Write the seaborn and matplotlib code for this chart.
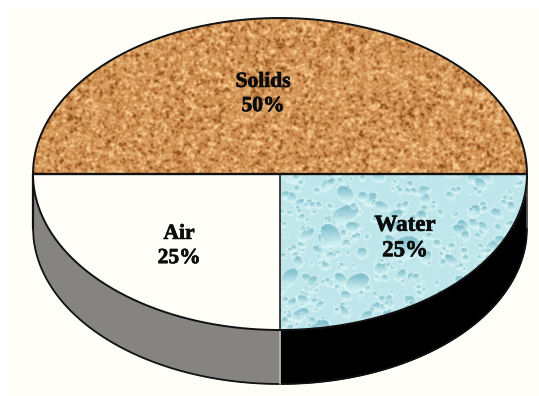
import numpy as np
import matplotlib
matplotlib.use("Agg")
import matplotlib.pyplot as plt
import matplotlib.patheffects as pe
from matplotlib.patches import Rectangle
import seaborn as sns

# Soil composition
components = ["Solids", "Air", "Water"]
shares = [50, 25, 25]
top_colors = ["#d09a60", "#fffef8", "#bfe6ea"]
wall_colors = ["#fffef8", "#858480", "#000000"]

sns.set_theme(style="white")
plt.rcParams["font.family"] = ["Liberation Serif", "DejaVu Serif"]

W, H = 539, 396
CX, CY, RX, RY, DEPTH = 280, 174, 247, 156, 54


def to_x(px):
    return (px - CX) / RX


def to_y(py):
    return (CY - py) / RY


def smooth(a, sigma):
    """Gaussian blur through the frequency domain."""
    fy = np.fft.fftfreq(a.shape[0])[:, None]
    fx = np.fft.fftfreq(a.shape[1])[None, :]
    g = np.exp(-2 * (np.pi * sigma) ** 2 * (fx ** 2 + fy ** 2))
    return np.fft.ifft2(np.fft.fft2(a) * g).real


def norm(a):
    return (a - a.mean()) / a.std()


def sand_texture(h, w, rng):
    """Speckled grain shading from dark brown to pale tan."""
    grain = norm(smooth(rng.standard_normal((h, w)), 0.8))
    clump = norm(smooth(rng.standard_normal((h, w)), 1.5))
    v = 0.7 * grain + 0.45 * clump
    stops = np.array([[0x8a, 0x4c, 0x1c], [0xc6, 0x84, 0x46], [0xdc, 0xa2, 0x64], [0xf8, 0xcc, 0x90]]) / 255
    t = np.clip((v + 2.0) / 3.8, 0, 1) * 3
    img = np.stack([np.interp(t, [0, 1, 2, 3], stops[:, c]) for c in range(3)], axis=-1)
    return np.stack([smooth(img[..., c], 0.45) for c in range(3)], axis=-1)


def droplet_texture(h, w, rng):
    """Pale blue surface scattered with soft shaded droplets."""
    base = np.array([0xbf, 0xe7, 0xeb]) / 255
    img = np.ones((h, w, 3)) * base
    yy, xx = np.mgrid[0:h, 0:w]
    radii = np.concatenate([rng.uniform(1.5, 3.5, 1500), rng.uniform(3.5, 6.5, 520), rng.uniform(7, 13, 55)])
    rng.shuffle(radii)
    body = np.array([0x6f, 0xb6, 0xc4]) / 255
    light = np.array([0xd2, 0xf2, 0xf4]) / 255
    rim = np.array([0xec, 0xfb, 0xfb]) / 255
    for r in radii:
        x0, y0 = rng.uniform(0, w), rng.uniform(0, h)
        tilt = rng.uniform(-0.7, 0.7)
        sx = r * rng.uniform(0.75, 1.2)
        x1, x2 = int(max(x0 - 2 * sx, 0)), int(min(x0 + 2 * sx + 1, w))
        y1, y2 = int(max(y0 - 2 * r, 0)), int(min(y0 + 2 * r + 1, h))
        if x1 >= x2 or y1 >= y2:
            continue
        dx = (xx[y1:y2, x1:x2] - x0 - tilt * (yy[y1:y2, x1:x2] - y0)) / sx
        dy = (yy[y1:y2, x1:x2] - y0) / r
        d = np.hypot(dx, dy)
        shade = np.clip(0.5 + 0.7 * dy, 0, 1)[..., None]
        col = body * (1 - shade) + light * shade
        patch = img[y1:y2, x1:x2]
        ring = (d >= 1) & (d < 1 + 1.0 / r)
        patch[ring] = patch[ring] * 0.3 + rim * 0.7
        inside = d < 1
        patch[inside] = patch[inside] * 0.25 + col[inside] * 0.75
    return np.stack([smooth(img[..., c], 0.6) for c in range(3)], axis=-1)


fig = plt.figure(figsize=(W / 100, H / 100), dpi=100, facecolor="white")
ax = fig.add_axes([0, 0, 1, 1])

# Paper panel behind the disc
ax.add_patch(Rectangle((to_x(10), to_y(H)), (W - 10) / RX, (H - 7) / RY,
                       facecolor="#fffef8", edgecolor="none", zorder=0))

# Lower disc gives the base of the cylinder wall
base_wedges, _ = ax.pie(shares, colors=wall_colors, startangle=0, counterclock=True,
                        center=(0, -DEPTH / RY), radius=1,
                        wedgeprops={"linewidth": 0}, frame=True)
for wedge in base_wedges:
    wedge.set_zorder(1)
base_wedges[0].set_visible(False)

# Wall band running down from the rim of the lower half
xs = np.linspace(-1, 1, 801)
rim = -np.sqrt(1 - xs ** 2)
left = xs <= 0
ax.fill_between(xs[left], rim[left], rim[left] - DEPTH / RY, color=wall_colors[1], lw=0, zorder=1.5)
ax.fill_between(xs[~left], rim[~left], rim[~left] - DEPTH / RY, color=wall_colors[2], lw=0, zorder=1.5)
ax.plot(xs, rim - DEPTH / RY, color="#111111", lw=1.3, zorder=2)
ax.plot([-1, -1], [0, -DEPTH / RY], color="#111111", lw=1.6, zorder=2)
ax.plot([1, 1], [0, -DEPTH / RY], color="#555555", lw=1.2, zorder=2)
ax.plot([0, 0], [-1, -1 - DEPTH / RY], color="#bbbbb5", lw=1.2, zorder=2)

# Upper disc with one face per component
top_wedges, _ = ax.pie(shares, colors=top_colors, startangle=0, counterclock=True,
                       center=(0, 0), radius=1,
                       wedgeprops={"linewidth": 0}, frame=True)
for wedge in top_wedges:
    wedge.set_zorder(3)

rng = np.random.default_rng(11)
sand = sand_texture(H, W, rng)
water = droplet_texture(H, W, rng)
extent = (to_x(0), to_x(W), to_y(H), to_y(0))
for tex, wedge in ((sand, top_wedges[0]), (water, top_wedges[2])):
    im = ax.imshow(tex, extent=extent, zorder=3.5, interpolation="bilinear", aspect="auto")
    im.set_clip_path(wedge)

# Outlines over the faces
th = np.linspace(0, 2 * np.pi, 1201)
ax.plot(np.cos(th), np.sin(th), color="#111111", lw=1.4, zorder=4)
ax.plot([-1, 1], [0, 0], color="#111111", lw=1.7, zorder=4)
ax.plot([0, 0], [0, -1], color="#222222", lw=1.2, zorder=4)

# Component labels
label_px = [(263, 94), (179, 246), (405, 238)]
label_size = [15.5, 15.5, 16.5]
for name, share, (px, py), size in zip(components, shares, label_px, label_size):
    txt = ax.text(to_x(px), to_y(py), f"{name}\n{share}%", ha="center", va="center",
                  fontsize=size, fontweight="bold", color="#0c0c0c", linespacing=1.28, zorder=5)
    txt.set_path_effects([pe.withStroke(linewidth=0.5, foreground="#0c0c0c")])

ax.set_aspect("auto")
ax.set_xlim(to_x(0), to_x(W))
ax.set_ylim(to_y(H), to_y(0))
ax.axis("off")

fig.savefig("out.png", dpi=100, facecolor="white")
